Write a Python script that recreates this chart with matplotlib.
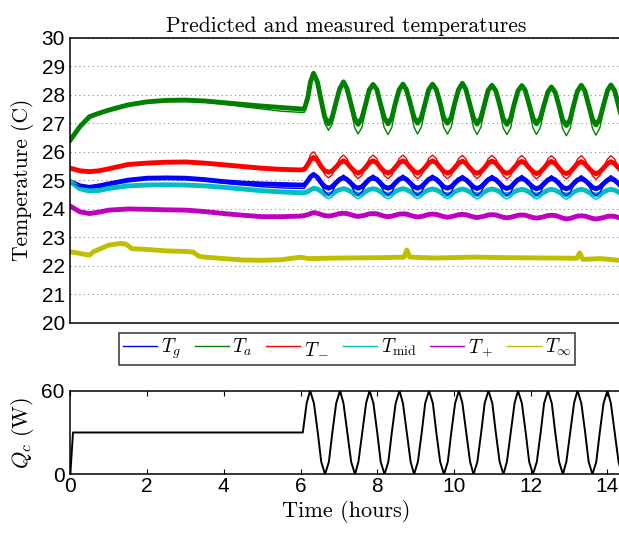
import numpy as np
import matplotlib
matplotlib.use("Agg")
import matplotlib.pyplot as plt

plt.rcParams["mathtext.fontset"] = "cm"
plt.rcParams["font.family"] = ["Liberation Sans", "DejaVu Sans"]

# time grid (hours)
t_pre = [0.0, 0.25, 0.5, 0.75, 1.0, 1.5, 2.0, 2.5, 3.0, 3.5, 4.0, 4.5, 5.0, 5.5, 6.0]
t_osc = [6.10, 6.19, 6.26,
         6.34, 6.44, 6.53, 6.63, 6.73, 6.82, 6.92, 7.02,
         7.12, 7.21, 7.31, 7.41, 7.50, 7.60, 7.70, 7.79,
         7.89, 7.99, 8.08, 8.18, 8.28, 8.38, 8.47, 8.57,
         8.67, 8.76, 8.86, 8.96, 9.05, 9.15, 9.25, 9.34,
         9.44, 9.54, 9.64, 9.73, 9.83, 9.93, 10.02, 10.12,
         10.22, 10.31, 10.41, 10.51, 10.60, 10.70, 10.80, 10.89,
         10.99, 11.09, 11.19, 11.28, 11.38, 11.48, 11.57, 11.67,
         11.77, 11.86, 11.96, 12.06, 12.15, 12.25, 12.35, 12.45,
         12.54, 12.64, 12.74, 12.83, 12.93, 13.03, 13.12, 13.22,
         13.32, 13.41, 13.51, 13.61, 13.70, 13.80, 13.90, 14.00,
         14.09, 14.19, 14.29, 14.38]
t_temp = t_pre + t_osc

# measured temperatures
Ta_meas = [26.41, 26.88, 27.23, 27.35, 27.46, 27.64, 27.75, 27.80, 27.81, 27.78, 27.72, 27.66, 27.60, 27.55, 27.50,
           27.50, 27.90, 28.45,
           28.75, 28.45, 27.85, 27.22, 26.98, 27.18, 27.70, 28.20,
           28.45, 28.22, 27.70, 27.18, 26.96, 27.18, 27.68, 28.16,
           28.36, 28.18, 27.70, 27.20, 26.98, 27.19, 27.69, 28.17,
           28.37, 28.18, 27.70, 27.20, 27.00, 27.20, 27.70, 28.17,
           28.37, 28.18, 27.70, 27.20, 27.00, 27.20, 27.70, 28.18,
           28.40, 28.19, 27.68, 27.18, 26.97, 27.18, 27.68, 28.15,
           28.33, 28.14, 27.66, 27.17, 26.96, 27.17, 27.67, 28.14,
           28.32, 28.14, 27.66, 27.18, 26.98, 27.17, 27.65, 28.10,
           28.27, 28.08, 27.60, 27.12, 26.92, 27.13, 27.63, 28.13,
           28.33, 28.14, 27.64, 27.14, 26.94, 27.14, 27.64, 28.14,
           28.34, 28.14, 27.62, 27.12]
Tm_meas = [25.42, 25.33, 25.30, 25.33, 25.40, 25.55, 25.60, 25.63, 25.64, 25.60, 25.54, 25.48, 25.42, 25.38, 25.36,
           25.38, 25.55, 25.72,
           25.80, 25.70, 25.50, 25.33, 25.28, 25.32, 25.45, 25.60,
           25.68, 25.61, 25.45, 25.31, 25.25, 25.31, 25.45, 25.61,
           25.68, 25.61, 25.45, 25.31, 25.25, 25.31, 25.45, 25.61,
           25.68, 25.61, 25.45, 25.31, 25.25, 25.31, 25.45, 25.60,
           25.68, 25.61, 25.45, 25.31, 25.25, 25.30, 25.44, 25.60,
           25.67, 25.60, 25.44, 25.30, 25.24, 25.30, 25.44, 25.60,
           25.67, 25.60, 25.44, 25.30, 25.24, 25.30, 25.44, 25.59,
           25.66, 25.59, 25.44, 25.30, 25.23, 25.29, 25.43, 25.59,
           25.66, 25.59, 25.43, 25.29, 25.23, 25.29, 25.43, 25.58,
           25.65, 25.58, 25.43, 25.29, 25.22, 25.29, 25.43, 25.58,
           25.65, 25.58, 25.43, 25.30]
Tg_meas = [24.95, 24.80, 24.75, 24.80, 24.87, 25.00, 25.07, 25.08, 25.07, 25.02, 24.95, 24.90, 24.87, 24.85, 24.83,
           24.83, 24.98, 25.12,
           25.20, 25.10, 24.93, 24.78, 24.72, 24.77, 24.90, 25.03,
           25.08, 25.03, 24.90, 24.77, 24.72, 24.77, 24.90, 25.03,
           25.08, 25.03, 24.90, 24.77, 24.72, 24.77, 24.90, 25.03,
           25.08, 25.03, 24.90, 24.77, 24.72, 24.77, 24.90, 25.03,
           25.08, 25.03, 24.90, 24.77, 24.72, 24.77, 24.89, 25.02,
           25.07, 25.02, 24.89, 24.76, 24.71, 24.76, 24.89, 25.02,
           25.07, 25.02, 24.89, 24.76, 24.71, 24.76, 24.89, 25.02,
           25.06, 25.01, 24.88, 24.76, 24.70, 24.75, 24.88, 25.01,
           25.06, 25.01, 24.88, 24.75, 24.70, 24.75, 24.88, 25.01,
           25.05, 25.00, 24.88, 24.75, 24.70, 24.75, 24.88, 25.00,
           25.05, 25.00, 24.88, 24.75]
Tmid_meas = [24.95, 24.70, 24.62, 24.64, 24.71, 24.80, 24.83, 24.84, 24.83, 24.80, 24.75, 24.69, 24.63, 24.59, 24.56,
             24.56, 24.60, 24.66,
             24.72, 24.69, 24.61, 24.53, 24.50, 24.53, 24.60, 24.67,
             24.70, 24.67, 24.60, 24.53, 24.50, 24.53, 24.60, 24.67,
             24.70, 24.67, 24.60, 24.53, 24.50, 24.53, 24.60, 24.67,
             24.70, 24.67, 24.60, 24.53, 24.50, 24.53, 24.60, 24.66,
             24.69, 24.66, 24.59, 24.52, 24.49, 24.52, 24.59, 24.66,
             24.69, 24.66, 24.59, 24.52, 24.49, 24.52, 24.59, 24.66,
             24.69, 24.66, 24.59, 24.52, 24.49, 24.52, 24.59, 24.65,
             24.68, 24.65, 24.58, 24.51, 24.48, 24.51, 24.58, 24.65,
             24.68, 24.65, 24.58, 24.51, 24.48, 24.51, 24.58, 24.65,
             24.68, 24.65, 24.58, 24.51, 24.48, 24.51, 24.58, 24.65,
             24.68, 24.65, 24.58, 24.52]
Tp_meas = [24.09, 23.89, 23.83, 23.88, 23.95, 23.99, 23.98, 23.96, 23.95, 23.90, 23.83, 23.77, 23.72, 23.72, 23.74,
           23.76, 23.79, 23.83,
           23.86, 23.84, 23.80, 23.76, 23.74, 23.76, 23.79, 23.83,
           23.84, 23.83, 23.79, 23.75, 23.73, 23.75, 23.78, 23.82,
           23.83, 23.82, 23.78, 23.74, 23.72, 23.74, 23.77, 23.81,
           23.82, 23.81, 23.77, 23.73, 23.71, 23.73, 23.76, 23.80,
           23.81, 23.80, 23.76, 23.72, 23.70, 23.72, 23.75, 23.79,
           23.80, 23.79, 23.75, 23.71, 23.69, 23.71, 23.74, 23.78,
           23.79, 23.78, 23.74, 23.70, 23.68, 23.70, 23.73, 23.77,
           23.78, 23.77, 23.73, 23.69, 23.67, 23.69, 23.72, 23.76,
           23.77, 23.76, 23.72, 23.67, 23.64, 23.66, 23.70, 23.74,
           23.75, 23.74, 23.70, 23.66, 23.64, 23.66, 23.69, 23.73,
           23.74, 23.73, 23.69, 23.66]

# predicted temperatures
Ta_pred = [26.41, 26.85, 27.18, 27.32, 27.44, 27.62, 27.72, 27.76, 27.77, 27.74, 27.67, 27.58, 27.50, 27.42, 27.38,
           27.38, 27.85, 28.45,
           28.70, 28.35, 27.70, 27.00, 26.75, 26.95, 27.50, 28.10,
           28.42, 28.15, 27.52, 26.85, 26.62, 26.85, 27.50, 28.12,
           28.36, 28.12, 27.50, 26.85, 26.60, 26.85, 27.50, 28.12,
           28.38, 28.13, 27.50, 26.86, 26.62, 26.86, 27.50, 28.12,
           28.37, 28.13, 27.50, 26.86, 26.62, 26.86, 27.50, 28.13,
           28.39, 28.13, 27.49, 26.85, 26.60, 26.85, 27.49, 28.12,
           28.36, 28.11, 27.48, 26.84, 26.60, 26.84, 27.48, 28.11,
           28.35, 28.10, 27.48, 26.84, 26.60, 26.84, 27.47, 28.10,
           28.32, 28.07, 27.45, 26.81, 26.56, 26.81, 27.45, 28.08,
           28.34, 28.09, 27.46, 26.82, 26.58, 26.82, 27.46, 28.09,
           28.35, 28.10, 27.47, 26.83]
Tm_pred = [25.40, 25.32, 25.30, 25.32, 25.38, 25.52, 25.58, 25.60, 25.60, 25.57, 25.50, 25.44, 25.38, 25.34, 25.32,
           25.34, 25.62, 25.90,
           26.00, 25.82, 25.50, 25.20, 25.08, 25.18, 25.47, 25.76,
           25.88, 25.76, 25.47, 25.17, 25.05, 25.17, 25.47, 25.76,
           25.88, 25.76, 25.47, 25.17, 25.05, 25.17, 25.47, 25.76,
           25.88, 25.76, 25.47, 25.17, 25.05, 25.17, 25.47, 25.76,
           25.88, 25.76, 25.47, 25.17, 25.05, 25.17, 25.47, 25.76,
           25.87, 25.75, 25.47, 25.17, 25.05, 25.17, 25.47, 25.75,
           25.87, 25.75, 25.46, 25.16, 25.04, 25.16, 25.46, 25.75,
           25.87, 25.75, 25.46, 25.16, 25.04, 25.16, 25.46, 25.75,
           25.86, 25.74, 25.46, 25.16, 25.04, 25.16, 25.46, 25.74,
           25.86, 25.74, 25.46, 25.16, 25.03, 25.16, 25.46, 25.74,
           25.86, 25.74, 25.46, 25.16]
Tg_pred = [24.90, 24.78, 24.75, 24.80, 24.86, 24.98, 25.05, 25.06, 25.04, 24.98, 24.90, 24.83, 24.77, 24.73, 24.71,
           24.71, 24.95, 25.15,
           25.25, 25.10, 24.85, 24.60, 24.48, 24.58, 24.83, 25.08,
           25.18, 25.08, 24.83, 24.58, 24.48, 24.58, 24.83, 25.08,
           25.18, 25.08, 24.83, 24.58, 24.48, 24.58, 24.83, 25.08,
           25.18, 25.08, 24.83, 24.58, 24.48, 24.58, 24.83, 25.08,
           25.18, 25.08, 24.83, 24.58, 24.48, 24.58, 24.83, 25.07,
           25.17, 25.07, 24.82, 24.57, 24.47, 24.57, 24.82, 25.07,
           25.17, 25.07, 24.82, 24.57, 24.47, 24.57, 24.82, 25.07,
           25.17, 25.07, 24.82, 24.57, 24.47, 24.57, 24.82, 25.06,
           25.16, 25.06, 24.82, 24.57, 24.46, 24.57, 24.82, 25.06,
           25.16, 25.06, 24.81, 24.56, 24.46, 24.56, 24.81, 25.06,
           25.16, 25.06, 24.82, 24.57]
Tmid_pred = [24.93, 24.68, 24.61, 24.63, 24.69, 24.78, 24.81, 24.82, 24.81, 24.77, 24.72, 24.66, 24.60, 24.56, 24.54,
             24.54, 24.60, 24.70,
             24.76, 24.70, 24.56, 24.42, 24.35, 24.41, 24.55, 24.69,
             24.75, 24.69, 24.55, 24.41, 24.35, 24.41, 24.55, 24.69,
             24.75, 24.69, 24.55, 24.41, 24.35, 24.41, 24.55, 24.69,
             24.75, 24.69, 24.55, 24.41, 24.35, 24.41, 24.55, 24.69,
             24.75, 24.69, 24.55, 24.41, 24.35, 24.41, 24.55, 24.68,
             24.74, 24.68, 24.54, 24.40, 24.34, 24.40, 24.54, 24.68,
             24.74, 24.68, 24.54, 24.40, 24.34, 24.40, 24.54, 24.68,
             24.74, 24.68, 24.54, 24.40, 24.34, 24.40, 24.54, 24.67,
             24.73, 24.67, 24.54, 24.40, 24.33, 24.40, 24.54, 24.67,
             24.73, 24.67, 24.53, 24.39, 24.33, 24.39, 24.53, 24.67,
             24.73, 24.67, 24.54, 24.40]

# ambient temperature (measured only)
t_inf = [0.0, 0.25, 0.5, 0.6, 1.0, 1.3, 1.45, 1.6, 2.0, 2.5, 3.0, 3.2, 3.35, 3.5, 4.0, 4.5, 5.0, 5.5,
         6.0, 6.2, 7.0, 8.0, 8.7, 8.77, 8.85, 9.5, 10.5, 11.5, 12.5, 13.2, 13.28, 13.36, 13.8, 14.4]
Tinf_meas = [22.49, 22.43, 22.37, 22.49, 22.72, 22.78, 22.76, 22.60, 22.57, 22.52, 22.50, 22.48, 22.33, 22.30,
             22.25, 22.20, 22.19, 22.21, 22.30, 22.25, 22.27, 22.28, 22.30, 22.55, 22.30, 22.27, 22.30, 22.28,
             22.27, 22.26, 22.45, 22.22, 22.25, 22.18]

# heat input Q_c (W)
t_q = [0.0, 0.07, 6.06, 6.16, 6.25, 6.35, 6.45, 6.54, 6.64, 6.74,
       6.83, 6.93, 7.03, 7.12, 7.22, 7.32, 7.42, 7.51,
       7.61, 7.71, 7.80, 7.90, 8.00, 8.09, 8.19, 8.29,
       8.38, 8.48, 8.58, 8.67, 8.77, 8.87, 8.96, 9.06,
       9.16, 9.25, 9.35, 9.45, 9.54, 9.64, 9.74, 9.84,
       9.93, 10.03, 10.13, 10.22, 10.32, 10.42, 10.51, 10.61,
       10.71, 10.80, 10.90, 11.00, 11.09, 11.19, 11.29, 11.38,
       11.48, 11.58, 11.67, 11.77, 11.87, 11.96, 12.06, 12.16,
       12.26, 12.35, 12.45, 12.55, 12.64, 12.74, 12.84, 12.93,
       13.03, 13.13, 13.22, 13.32, 13.42, 13.51, 13.61, 13.71,
       13.80, 13.90, 14.00, 14.09, 14.19, 14.29, 14.38]
q_c = [0, 30, 30, 51, 60, 51, 30, 9, 0, 9,
       30, 51, 60, 51, 30, 9, 0, 9,
       30, 51, 60, 51, 30, 9, 0, 9,
       30, 51, 60, 51, 30, 9, 0, 9,
       30, 51, 60, 51, 30, 9, 0, 9,
       30, 51, 60, 51, 30, 9, 0, 9,
       30, 51, 60, 51, 30, 9, 0, 9,
       30, 51, 60, 51, 30, 9, 0, 9,
       30, 51, 60, 51, 30, 9, 0, 9,
       30, 51, 60, 51, 30, 9, 0, 9,
       30, 51, 60, 51, 30, 9, 0]

labels = [r"$T_g$", r"$T_a$", r"$T_-$", r"$T_\mathrm{mid}$", r"$T_+$", r"$T_\infty$"]
colors = ["#0000ff", "#008000", "#ff0000", "#00bfbf", "#bf00bf", "#bfbf00"]
measured = [Tg_meas, Ta_meas, Tm_meas, Tmid_meas, Tp_meas]
predicted = [Tg_pred, Ta_pred, Tm_pred, Tmid_pred]

fig = plt.figure(figsize=(6.19, 5.34), dpi=100)
ax1 = fig.add_axes([0.1136, 0.3957, 0.89, 0.5337])
ax2 = fig.add_axes([0.1136, 0.1118, 0.89, 0.1566])

for meas, col in zip(measured, colors[:5]):
    ax1.plot(t_temp, meas, color=col, lw=3.5, solid_joinstyle="round")
ax1.plot(t_inf, Tinf_meas, color=colors[5], lw=3.5, solid_joinstyle="round")
for pred, col in zip(predicted, colors[:4]):
    ax1.plot(t_temp, pred, color=col, lw=1.0)

ax1.set_xlim(0, 14.36)
ax1.set_ylim(20, 30)
ax1.set_yticks(range(20, 31))
ax1.set_xticks([])
ax1.tick_params(axis="y", length=0, labelsize=15, pad=4)
ax1.grid(axis="y", linestyle=(0, (1, 3)), color="#888888", lw=0.8)
ax1.set_ylabel("Temperature (C)", fontname="cmr10", fontsize=15.5, labelpad=5)
ax1.set_title("Predicted and measured temperatures", fontname="cmr10", fontsize=15.5, pad=4)
for s in ax1.spines.values():
    s.set_linewidth(1.1)

handles = [plt.Line2D([], [], color=c, lw=1.0) for c in colors]
leg = fig.legend(handles, labels, loc="center", bbox_to_anchor=(0.561, 0.346), ncol=6,
                 fontsize=14, frameon=True, fancybox=False, edgecolor="black",
                 handlelength=1.75, handletextpad=0.2, columnspacing=0.7,
                 borderpad=0.2, borderaxespad=0)
leg.get_frame().set_linewidth(1.1)

ax2.plot(t_q, q_c, color="black", lw=1.4)
ax2.set_xlim(0, 14.36)
ax2.set_ylim(0, 60)
ax2.set_yticks([0, 60])
ax2.set_xticks(range(0, 15, 2))
ax2.tick_params(direction="in", top=True, right=True, length=3.5, labelsize=15, pad=2)
ax2.tick_params(axis="y", length=0, pad=4)
ax2.set_xlabel("Time (hours)", fontname="cmr10", fontsize=16, labelpad=3)
ax2.set_ylabel(r"$Q_c\ \mathrm{(W)}$", fontsize=16, labelpad=4)
for s in ax2.spines.values():
    s.set_linewidth(1.1)

fig.savefig("out.png", dpi=100)
